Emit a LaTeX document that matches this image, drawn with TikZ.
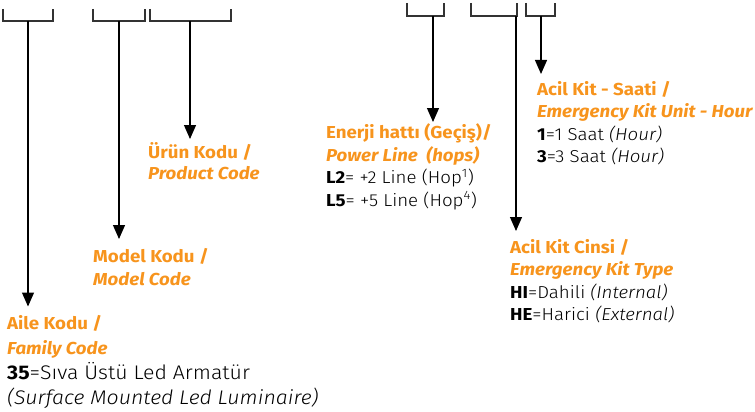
\documentclass[tikz,border=0pt]{standalone}
\usepackage{fontspec}
\setmainfont{Fira Sans}[UprightFont={* Light}, ItalicFont={* Light Italic}, BoldFont={* Bold}, BoldItalicFont={* Bold Italic}, FakeStretch=1.08]
\usepackage{xcolor}
\usetikzlibrary{arrows.meta,positioning}
\definecolor{codeorange}{RGB}{247,148,29}
\definecolor{bracketgray}{RGB}{51,51,51}
\newcommand{\headA}[1]{\textcolor{codeorange}{\bfseries #1}}
\newcommand{\headB}[1]{\textcolor{codeorange}{\bfseries\itshape #1}}

\tikzset{
  bracket/.style={line width=2.7pt, draw=bracketgray},
  drop/.style={line width=1.2pt, -{Triangle[length=14pt,width=12pt]}},
  codetext/.style={anchor=north west, align=left, inner sep=0pt, text=black}
}

\begin{document}
\begin{tikzpicture}[x=1pt,y=-1pt]
\useasboundingbox (0,0) rectangle (755,412);

%Brackets
\draw[bracket] (3,9) |- (53,21) -- (53,9);
\draw[bracket] (93,9) |- (145,21) -- (145,9);
\draw[bracket] (150,9) |- (231,21) -- (231,9);
\draw[bracket] (407,3) |- (444,16) -- (444,3);
\draw[bracket] (471,3) |- (517,16) -- (517,3);
\draw[bracket] (526,3) |- (555,16) -- (555,3);

%Bracket feet
\coordinate (famB) at (28,21);
\coordinate (modB) at (119,21);
\coordinate (proB) at (190,21);
\coordinate (powB) at (433,16);
\coordinate (kitB) at (516,16);
\coordinate (hourB) at (541,16);

%Texts
\node[codetext, font=\fontsize{17.3}{25}\selectfont] (family) at (7,315.5)
  {\headA{Aile Kodu /}\\ \headB{Family Code}\\ {\fontsize{19.7}{25}\selectfont\textbf{35}=Sıva Üstü Led Armatür}\\ {\fontsize{19.7}{25.5}\selectfont\textit{(Surface Mounted Led Luminaire)}}};
\node[codetext, font=\fontsize{17.3}{23}\selectfont] (model) at (93,248)
  {\headA{Model Kodu /}\\ \headB{Model Code}};
\node[codetext, font=\fontsize{17.3}{21}\selectfont] (product) at (148,142)
  {\headA{Ürün Kodu /}\\ \headB{Product Code}};
\node[codetext, font=\fontsize{17.3}{22.5}\selectfont] (power) at (326,123.5)
  {\headA{Enerji hattı (Geçiş)/}\\ \headB{Power Line \ (hops)}\\ \textbf{L2}= +2 Line (Hop\textsuperscript{1})\\ \textbf{L5}= +5 Line (Hop\textsuperscript{4})};
\node[codetext, font=\fontsize{17.3}{22.5}\selectfont] (kittype) at (510,239)
  {\headA{Acil Kit Cinsi /}\\ \headB{Emergency Kit Type}\\ \textbf{HI}=Dahili \textit{(Internal)}\\ \textbf{HE}=Harici \textit{(External)}};
\node[codetext, font=\fontsize{17.3}{22.5}\selectfont] (kithour) at (537,81)
  {\headA{Acil Kit - Saati /}\\ \headB{Emergency Kit Unit - Hour}\\ \textbf{1}=1 Saat \textit{(Hour)}\\ {\fontsize{17.3}{24.5}\selectfont\textbf{3}=3 Saat \textit{(Hour)}}};

%Drops
\draw[drop, shorten >=9pt] (famB) -- (famB |- family.north);
\draw[drop, shorten >=9pt] (modB) -- (modB |- model.north);
\draw[drop, shorten >=3pt] (proB) -- (proB |- product.north);
\draw[drop, shorten >=1.5pt] (powB) -- (powB |- power.north);
\draw[drop, shorten >=8pt] (kitB) -- (kitB |- kittype.north);
\draw[drop, shorten >=7pt] (hourB) -- (hourB |- kithour.north);
\end{tikzpicture}
\end{document}
